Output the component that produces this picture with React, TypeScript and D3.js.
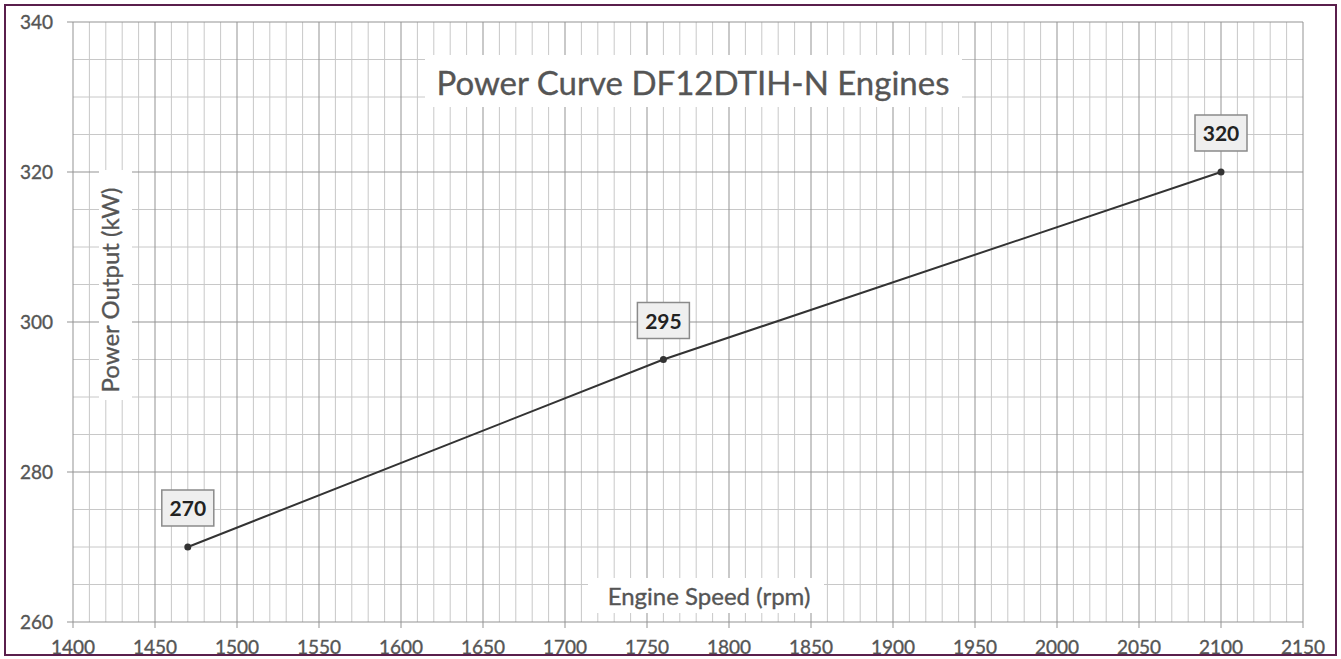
import * as d3 from 'd3';

const W = 1341;
const H = 659;
const MARGIN = { top: 22, right: 38, bottom: 37, left: 73 };

// data
const speeds = [1470, 1760, 2100];
const power = [270, 295, 320];
const xTicks = d3.range(1400, 2151, 50);
const yTicks = [260, 280, 300, 320, 340];

const FONT = 'Lato, "Open Sans", sans-serif';
const TEXT = '#555555';

export default function App() {
  const innerW = W - MARGIN.left - MARGIN.right;
  const innerH = H - MARGIN.top - MARGIN.bottom;

  const x = d3.scaleLinear().domain([1400, 2150]).range([MARGIN.left, MARGIN.left + innerW]);
  const y = d3.scaleLinear().domain([260, 340]).range([MARGIN.top + innerH, MARGIN.top]);

  const minorX = d3.range(1400, 2151, 10).filter(v => v % 50 !== 0);
  const minorY = d3.range(260, 341, 5).filter(v => v % 20 !== 0);

  const points = speeds.map((s, i) => ({ s, p: power[i] }));
  const line = d3.line<{ s: number; p: number }>().x(d => x(d.s)).y(d => y(d.p));

  const x0 = x(1400), x1 = x(2150), y0 = y(260), y1 = y(340);
  const txt = { fontFamily: FONT, fill: TEXT, stroke: TEXT, strokeWidth: 0.35 };

  return (
    <div style={{ position: 'absolute', left: 0, top: 0 }}>
      <svg width={W} height={H} style={{ display: 'block', background: '#fff' }}>
        {/* minor grid */}
        <g stroke="#c8c8c8" strokeWidth={1}>
          {minorX.map(v => (
            <line key={'mx' + v} x1={x(v)} x2={x(v)} y1={y1} y2={y0} />
          ))}
          {minorY.map(v => (
            <line key={'my' + v} x1={x0} x2={x1} y1={y(v)} y2={y(v)} />
          ))}
        </g>
        {/* major grid */}
        <g stroke="#939393" strokeWidth={1}>
          {xTicks.map(v => (
            <line key={'Mx' + v} x1={x(v)} x2={x(v)} y1={y1} y2={y0 + 6} />
          ))}
          {yTicks.map(v => (
            <line key={'My' + v} x1={x0 - 6} x2={x1} y1={y(v)} y2={y(v)} />
          ))}
        </g>

        {/* title box */}
        <rect x={425} y={55} width={537} height={52} fill="#fff" />
        <text x={693} y={95} textAnchor="middle" fontSize={33} {...txt}>
          Power Curve DF12DTIH-N Engines
        </text>

        {/* axis titles */}
        <rect x={99} y={170} width={33} height={230} fill="#fff" />
        <text transform="translate(119,290) rotate(-90)" textAnchor="middle" fontSize={24} {...txt}>
          Power Output (kW)
        </text>
        <rect x={588} y={578} width={236} height={35} fill="#fff" />
        <text x={709} y={605} textAnchor="middle" fontSize={24} {...txt}>
          Engine Speed (rpm)
        </text>

        {/* tick labels */}
        {xTicks.map(v => (
          <text key={'xl' + v} x={x(v)} y={654} textAnchor="middle" fontSize={19} {...txt}>
            {v}
          </text>
        ))}
        {yTicks.map(v => (
          <text key={'yl' + v} x={53} y={y(v) + 7} textAnchor="end" fontSize={19} {...txt}>
            {v}
          </text>
        ))}

        {/* series */}
        <path d={line(points) ?? ''} fill="none" stroke="#333" strokeWidth={2} />
        {points.map(d => (
          <circle key={'pt' + d.s} cx={x(d.s)} cy={y(d.p)} r={3.5} fill="#333" />
        ))}
        {points.map(d => (
          <g key={'lb' + d.s} transform={`translate(${x(d.s)},${y(d.p) - 39})`}>
            <rect x={-26} y={-18} width={52} height={36} fill="#efefef" stroke="#8a8a8a" strokeWidth={1.5} />
            <text y={8} textAnchor="middle" fontFamily={FONT} fontWeight={700} fontSize={21} fill="#222">
              {d.p}
            </text>
          </g>
        ))}

        {/* frame */}
        <rect x={5} y={5} width={W - 10} height={H - 9} fill="none" stroke="#5a1f4c" strokeWidth={2} />
      </svg>
    </div>
  );
}
